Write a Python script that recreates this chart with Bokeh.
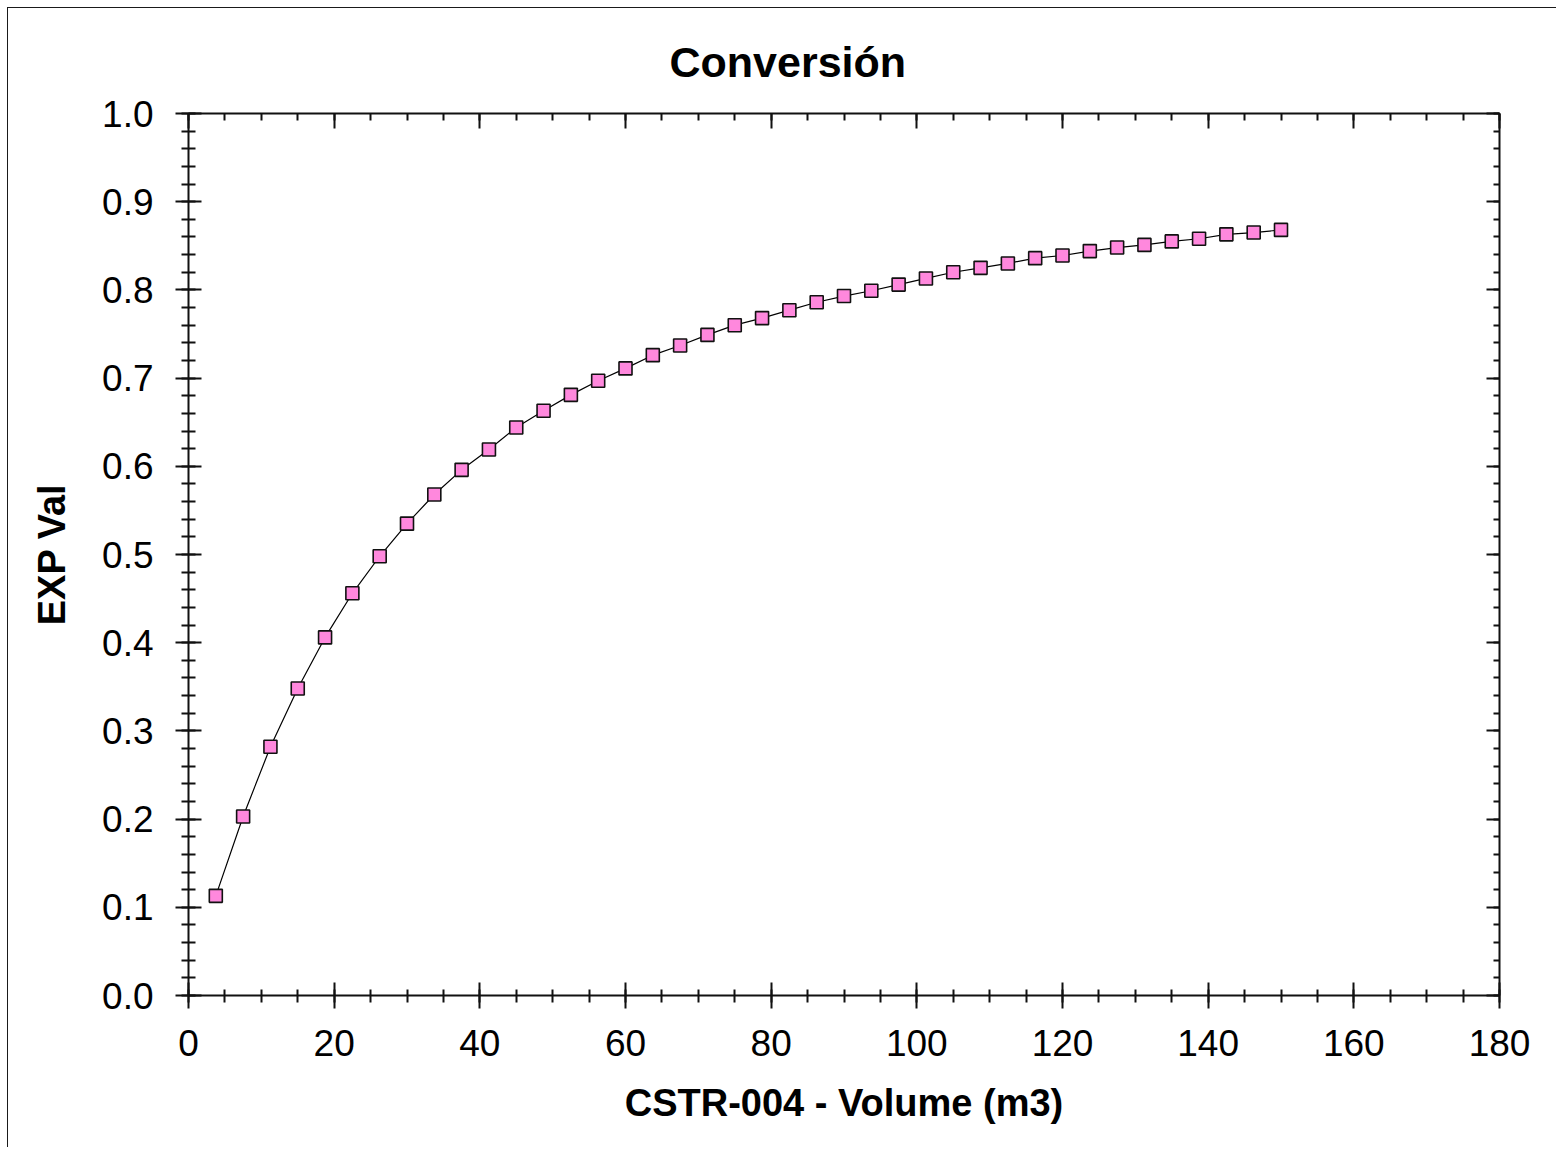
from bokeh.plotting import figure
from bokeh.models import Range1d, LinearAxis, SingleIntervalTicker, CustomJSTickFormatter
from bokeh.embed import file_html
from bokeh.resources import INLINE

# Data
volume_m3 = [3.75, 7.5, 11.25, 15.0, 18.75, 22.5, 26.25, 30.0, 33.75, 37.5,
             41.25, 45.0, 48.75, 52.5, 56.25, 60.0, 63.75, 67.5, 71.25, 75.0,
             78.75, 82.5, 86.25, 90.0, 93.75, 97.5, 101.25, 105.0, 108.75, 112.5,
             116.25, 120.0, 123.75, 127.5, 131.25, 135.0, 138.75, 142.5, 146.25, 150.0]
exp_val = [0.113, 0.203, 0.282, 0.348, 0.406, 0.456, 0.498, 0.535, 0.568, 0.596,
           0.619, 0.644, 0.663, 0.681, 0.697, 0.711, 0.726, 0.737, 0.749, 0.760,
           0.768, 0.777, 0.786, 0.793, 0.799, 0.806, 0.813, 0.820, 0.825, 0.830,
           0.836, 0.839, 0.844, 0.848, 0.851, 0.855, 0.858, 0.863, 0.865, 0.868]
x_tick_step = 20
y_tick_step = 0.1

FONT = "Liberation Sans"
W, H = 1549, 1140

p = figure(width=W, height=H, output_backend="svg", toolbar_location=None,
           x_range=Range1d(0, 180), y_range=Range1d(0, 1.0),
           min_border_left=180, min_border_top=105, min_border_right=W - 180 - 1311,
           min_border_bottom=H - 105 - 882, title="Conversión")
p.styles = {"margin-left": "8px", "margin-top": "8px",
            "box-shadow": "-1px -1px 0 0 #1a1a1a"}
p.outline_line_color = None
p.xgrid.visible = False
p.ygrid.visible = False
p.background_fill_color = "white"
p.border_fill_color = "white"

p.title.text_font = FONT
p.title.text_font_size = "43px"
p.title.text_font_style = "bold"
p.title.align = "left"
p.title.offset = 481
p.title.standoff = 55
p.title.text_color = "black"

def style_axis(ax, interval, nminor):
    ax.ticker = SingleIntervalTicker(interval=interval, num_minor_ticks=nminor)
    ax.axis_line_color = "#111111"
    ax.axis_line_width = 2
    ax.major_tick_line_color = "#111111"
    ax.major_tick_line_width = 2
    ax.minor_tick_line_color = "#111111"
    ax.minor_tick_line_width = 2
    ax.major_label_text_font = FONT
    ax.major_label_text_font_size = "37px"
    ax.major_label_text_color = "black"
    ax.axis_label_text_font = FONT
    ax.axis_label_text_font_size = "38px"
    ax.axis_label_text_font_style = "bold"
    ax.axis_label_text_color = "black"

xa = p.xaxis[0]
style_axis(xa, x_tick_step, 4)
xa.axis_label = "CSTR-004 - Volume (m3)"
xa.major_tick_in = 13
xa.major_tick_out = 13
xa.minor_tick_in = 6
xa.minor_tick_out = 7
xa.major_label_standoff = 21
xa.axis_label_standoff = 23

ya = p.yaxis[0]
style_axis(ya, y_tick_step, 5)
ya.axis_label = "EXP Val"
ya.major_tick_in = 13
ya.major_tick_out = 13
ya.minor_tick_in = 7
ya.minor_tick_out = 7
ya.major_label_standoff = 22
ya.axis_label_standoff = 26
ya.formatter = CustomJSTickFormatter(code="return tick.toFixed(1);")

top = LinearAxis()
style_axis(top, x_tick_step, 4)
top.major_tick_in = 15
top.major_tick_out = 0
top.minor_tick_in = 7
top.minor_tick_out = 0
top.major_label_text_font_size = "0px"
top.major_label_standoff = 0
p.add_layout(top, "above")

right = LinearAxis()
style_axis(right, y_tick_step, 5)
right.major_tick_in = 13
right.major_tick_out = 0
right.minor_tick_in = 6
right.minor_tick_out = 0
right.major_label_text_font_size = "0px"
right.major_label_standoff = 0
p.add_layout(right, "right")

p.line(volume_m3, exp_val, line_color="black", line_width=1.2)
p.scatter(volume_m3, exp_val, marker="square", size=13, fill_color="#ff88dd",
          line_color="#111111", line_width=1.6)

open("out.html", "w").write(file_html(p, INLINE))
